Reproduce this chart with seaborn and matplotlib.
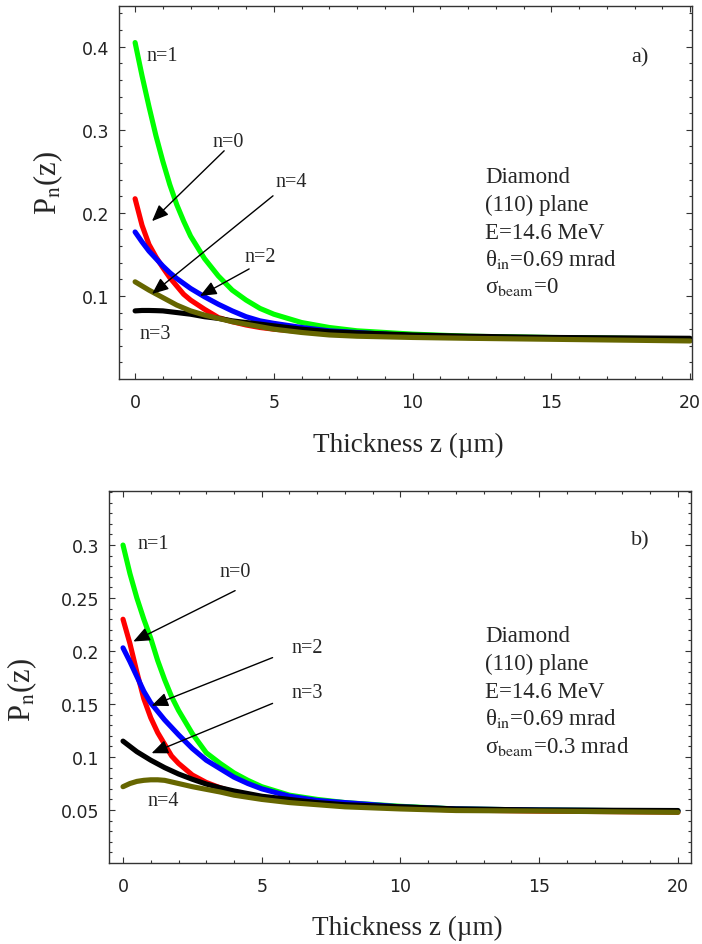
import numpy as np
import pandas as pd
import matplotlib
matplotlib.use("Agg")
import matplotlib.pyplot as plt
import seaborn as sns

# ---------------- data ----------------
z = [0, 0.25, 0.5, 0.75, 1, 1.25, 1.5, 1.75, 2, 2.5, 3, 3.5, 4, 4.5, 5, 6, 7, 8, 10, 12, 15, 20]

# panel a) sigma_beam = 0
a_n0 = [0.217, 0.185, 0.162, 0.147, 0.134, 0.122, 0.112, 0.102, 0.095, 0.084, 0.074, 0.069, 0.065, 0.062, 0.060, 0.057, 0.055, 0.054, 0.052, 0.050, 0.049, 0.047]
a_n1 = [0.405, 0.365, 0.328, 0.293, 0.262, 0.234, 0.210, 0.190, 0.172, 0.145, 0.124, 0.107, 0.095, 0.085, 0.078, 0.068, 0.062, 0.058, 0.054, 0.0515, 0.050, 0.048]
a_n2 = [0.177, 0.165, 0.154, 0.145, 0.136, 0.128, 0.121, 0.115, 0.109, 0.099, 0.090, 0.082, 0.075, 0.070, 0.067, 0.062, 0.058, 0.056, 0.052, 0.050, 0.049, 0.047]
a_n3 = [0.082, 0.0825, 0.0825, 0.0823, 0.082, 0.081, 0.080, 0.079, 0.078, 0.075, 0.073, 0.070, 0.068, 0.066, 0.064, 0.060, 0.057, 0.0555, 0.053, 0.0515, 0.050, 0.049]
a_n4 = [0.117, 0.112, 0.107, 0.1025, 0.098, 0.0935, 0.089, 0.0855, 0.082, 0.077, 0.073, 0.069, 0.066, 0.063, 0.060, 0.056, 0.053, 0.0515, 0.050, 0.049, 0.0478, 0.0458]

# panel b) sigma_beam = 0.3 mrad
b_n0 = [0.230, 0.207, 0.180, 0.155, 0.137, 0.123, 0.112, 0.101, 0.094, 0.083, 0.076, 0.071, 0.067, 0.064, 0.061, 0.058, 0.056, 0.054, 0.052, 0.050, 0.049, 0.048]
b_n1 = [0.300, 0.273, 0.250, 0.230, 0.212, 0.191, 0.173, 0.157, 0.144, 0.122, 0.104, 0.094, 0.085, 0.078, 0.072, 0.064, 0.060, 0.057, 0.0535, 0.051, 0.050, 0.049]
b_n2 = [0.203, 0.190, 0.176, 0.162, 0.151, 0.143, 0.135, 0.128, 0.121, 0.108, 0.097, 0.089, 0.081, 0.075, 0.070, 0.063, 0.059, 0.057, 0.053, 0.051, 0.050, 0.049]
b_n3 = [0.115, 0.110, 0.105, 0.101, 0.097, 0.0935, 0.090, 0.087, 0.084, 0.079, 0.0745, 0.071, 0.068, 0.0655, 0.063, 0.060, 0.057, 0.055, 0.053, 0.051, 0.050, 0.0495]
b_n4 = [0.072, 0.075, 0.077, 0.078, 0.0785, 0.0785, 0.078, 0.0765, 0.075, 0.072, 0.0695, 0.067, 0.064, 0.062, 0.060, 0.057, 0.055, 0.053, 0.051, 0.0495, 0.049, 0.0478]

series_order = ["n=1", "n=0", "n=2", "n=3", "n=4"]
series_colors = {"n=0": "#ff0000", "n=1": "#00ff00", "n=2": "#0000ff",
                 "n=3": "#000000", "n=4": "#666600"}

xticks = [0, 5, 10, 15, 20]
xtick_labels = ["0", "5", "10", "15", "20"]
yticks_a = [0.1, 0.2, 0.3, 0.4]
ytick_labels_a = ["0.1", "0.2", "0.3", "0.4"]
yticks_b = [0.05, 0.1, 0.15, 0.2, 0.25, 0.3]
ytick_labels_b = ["0.05", "0.1", "0.15", "0.2", "0.25", "0.3"]

info_a = ["Diamond", "(110) plane", "E=14.6 MeV", r"θ$_{\mathrm{in}}$=0.69 mrad", r"σ$_{\mathrm{beam}}$=0"]
info_b = ["Diamond", "(110) plane", "E=14.6 MeV", r"θ$_{\mathrm{in}}$=0.69 mrad", r"σ$_{\mathrm{beam}}$=0.3 mrad"]


def long_df(n0, n1, n2, n3, n4):
    d = {"n=0": n0, "n=1": n1, "n=2": n2, "n=3": n3, "n=4": n4}
    frames = [pd.DataFrame({"z": z, "P": d[k], "n": k}) for k in series_order]
    return pd.concat(frames, ignore_index=True)


df_a = long_df(a_n0, a_n1, a_n2, a_n3, a_n4)
df_b = long_df(b_n0, b_n1, b_n2, b_n3, b_n4)

# ---------------- style ----------------
sns.set_theme(style="ticks")
plt.rcParams["font.family"] = ["DejaVu Sans"]
plt.rcParams["mathtext.fontset"] = "stix"
SERIF = ["Liberation Serif", "DejaVu Serif"]

fig = plt.figure(figsize=(7.02, 9.45), dpi=100)
ax1 = fig.add_axes([0.16952, 0.59788, 0.81624, 0.39471])
ax2 = fig.add_axes([0.15527, 0.085714, 0.82906, 0.393651])


def style_axes(ax, yticks, ylabels, xlim, ylim, yminor):
    ax.set_xlim(*xlim)
    ax.set_ylim(*ylim)
    ax.set_xticks(xticks)
    ax.set_xticklabels(xtick_labels)
    ax.set_yticks(yticks)
    ax.set_yticklabels(ylabels)
    ax.set_xticks(np.arange(0, 21, 1), minor=True)
    ax.set_yticks(np.arange(yminor, ylim[1], yminor), minor=True)
    ax.tick_params(which="both", direction="in", top=True, right=True,
                   width=0.8, colors="#333333", labelcolor="#222222")
    ax.tick_params(which="major", length=4, labelsize=12.5)
    ax.tick_params(which="minor", length=2)
    ax.tick_params(axis="x", which="major", pad=10)
    ax.tick_params(axis="y", which="major", pad=7)
    for s in ax.spines.values():
        s.set_color("#333333")
        s.set_linewidth(1.0)
    ax.set_xlabel("")
    ax.set_ylabel("")


for ax, df in [(ax1, df_a), (ax2, df_b)]:
    sns.lineplot(data=df, x="z", y="P", hue="n", hue_order=series_order,
                 palette=series_colors, estimator=None, sort=False,
                 linewidth=3.7, legend=False, ax=ax,
                 solid_capstyle="round", solid_joinstyle="round")

style_axes(ax1, yticks_a, ytick_labels_a, (-0.58, 20.07), (0, 0.449), 0.02)
style_axes(ax2, yticks_b, ytick_labels_b, (-0.505, 20.47), (0, 0.351), 0.01)

arrow_kw = dict(arrowstyle="-|>,head_length=1.0,head_width=0.42", color="black",
                lw=1.0, shrinkA=0, shrinkB=0, mutation_scale=10)

# ---- panel a annotations ----
ax1.text(0.97, 0.39, "n=1", fontsize=14.5, family=SERIF, ha="center", va="center")
ax1.text(3.35, 0.2855, "n=0", fontsize=14.5, family=SERIF, ha="center", va="center")
ax1.annotate("", xy=(0.61, 0.190), xytext=(3.21, 0.2747), arrowprops=arrow_kw)
ax1.text(5.63, 0.2375, "n=4", fontsize=14.5, family=SERIF, ha="center", va="center")
ax1.annotate("", xy=(0.61, 0.1024), xytext=(4.97, 0.2205), arrowprops=arrow_kw)
ax1.text(4.5, 0.147, "n=2", fontsize=14.5, family=SERIF, ha="center", va="center")
ax1.annotate("", xy=(2.34, 0.100), xytext=(4.11, 0.1325), arrowprops=arrow_kw)
ax1.text(0.72, 0.055, "n=3", fontsize=14.5, family=SERIF, ha="center", va="center")
ax1.text(18.2, 0.388, "a)", fontsize=16, family=SERIF, ha="center", va="center")
for txt, yb in zip(info_a, [0.2377, 0.2036, 0.1702, 0.1377, 0.1045]):
    ax1.text(12.61, yb, txt, fontsize=16.5, family=SERIF, ha="left", va="baseline")

# ---- panel b annotations ----
ax2.text(1.08, 0.301, "n=1", fontsize=14.5, family=SERIF, ha="center", va="center")
ax2.text(4.04, 0.2746, "n=0", fontsize=14.5, family=SERIF, ha="center", va="center")
ax2.annotate("", xy=(0.37, 0.209), xytext=(4.04, 0.257), arrowprops=arrow_kw)
ax2.text(6.63, 0.203, "n=2", fontsize=14.5, family=SERIF, ha="center", va="center")
ax2.annotate("", xy=(1.03, 0.1484), xytext=(5.39, 0.1938), arrowprops=arrow_kw)
ax2.text(6.63, 0.161, "n=3", fontsize=14.5, family=SERIF, ha="center", va="center")
ax2.annotate("", xy=(1.03, 0.1036), xytext=(5.39, 0.1506), arrowprops=arrow_kw)
ax2.text(1.44, 0.0594, "n=4", fontsize=14.5, family=SERIF, ha="center", va="center")
ax2.text(18.63, 0.3047, "b)", fontsize=16, family=SERIF, ha="center", va="center")
for txt, yb in zip(info_b, [0.2091, 0.1831, 0.1571, 0.1311, 0.1051]):
    ax2.text(13.05, yb, txt, fontsize=16.5, family=SERIF, ha="left", va="baseline")

# ---- axis labels (figure coords) ----
fig.text(408 / 702, 1 - 452 / 945, "Thickness z (µm)", fontsize=19.5, family=SERIF,
         ha="center", va="baseline")
fig.text(407.5 / 702, 1 - 935 / 945, "Thickness z (µm)", fontsize=19.5, family=SERIF,
         ha="center", va="baseline")
fig.text(48 / 702, 1 - 183 / 945, r"P$_{\mathrm{n}}$(z)", fontsize=22, family=SERIF,
         rotation=90, ha="center", va="center")
fig.text(22.5 / 702, 1 - 690 / 945, r"P$_{\mathrm{n}}$(z)", fontsize=22, family=SERIF,
         rotation=90, ha="center", va="center")

fig.savefig("out.png", dpi=100)
